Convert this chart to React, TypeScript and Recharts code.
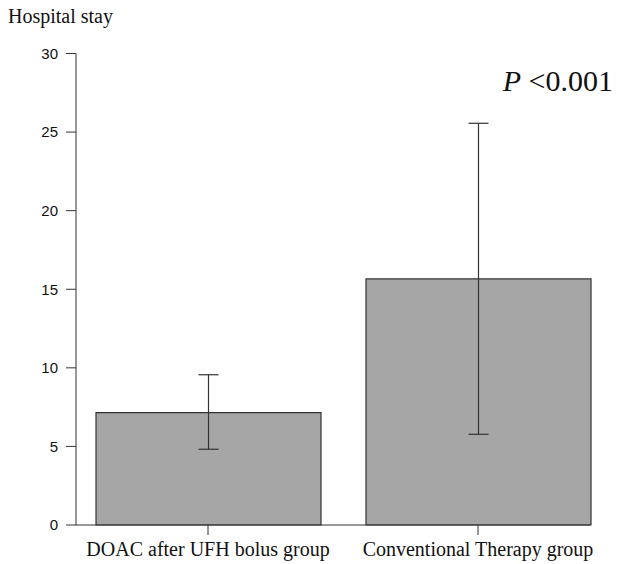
import React from "react";
import { BarChart, Bar, XAxis, YAxis, ErrorBar } from "recharts";

// group labels, mean stay and the error bar ends
const groups = ["DOAC after UFH bolus group", "Conventional Therapy group"];
const means = [7.15, 15.66];
const lower = [4.82, 5.77];
const upper = [9.56, 25.56];
const yTicks = [0, 5, 10, 15, 20, 25, 30];
const pLabel = "<0.001";

const data = groups.map((g, i) => ({
  group: g,
  mean: means[i],
  err: [means[i] - lower[i], upper[i] - means[i]],
}));

const serif = '"Liberation Serif", "Times New Roman", serif';
const sans = '"Liberation Sans", Arial, sans-serif';

export default function App() {
  return (
    <div style={{ position: "relative", width: 617, height: 564, background: "#fff" }}>
      <style>{"body{margin:0}"}</style>
      <BarChart
        width={617}
        height={564}
        data={data}
        margin={{ top: 53.5, right: 27, bottom: 0, left: 0 }}
      >
        <XAxis
          dataKey="group"
          type="category"
          height={39}
          padding={{ left: -3, right: -23 }}
          stroke="#333"
          tickSize={10}
          tickMargin={7}
          interval={0}
          tick={{ fill: "#111", fontFamily: serif, fontSize: 20 }}
        />
        <YAxis
          width={76}
          domain={[0, 30]}
          ticks={yTicks}
          stroke="#333"
          tickSize={10}
          tickMargin={8}
          tick={{ fill: "#111", fontFamily: sans, fontSize: 15 }}
        />
        <Bar
          dataKey="mean"
          barSize={225}
          fill="#a6a6a6"
          stroke="#333"
          strokeWidth={1.2}
          isAnimationActive={false}
        >
          <ErrorBar dataKey="err" direction="y" width={10} stroke="#333" strokeWidth={1.2} />
        </Bar>
      </BarChart>
      <svg
        width={617}
        height={564}
        style={{ position: "absolute", left: 0, top: 0, pointerEvents: "none" }}
      >
        <text x={8} y={23} fontFamily={serif} fontSize={20} fill="#111">
          Hospital stay
        </text>
        <text x={613} y={91} textAnchor="end" fontFamily={serif} fontSize={30} fill="#111">
          <tspan fontStyle="italic">P</tspan> {pLabel}
        </text>
      </svg>
    </div>
  );
}
